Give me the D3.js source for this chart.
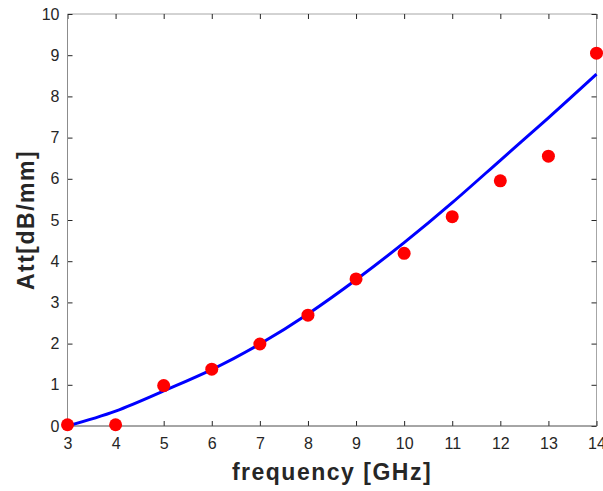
<!DOCTYPE html>
<html><head><meta charset="utf-8">
<script src="https://cdn.jsdelivr.net/npm/d3@7"></script>
<style>body{margin:0;background:#fff;}svg{display:block;font-family:"Liberation Sans",Arial,sans-serif;}</style>
</head><body>
<script>
const freqs = [3,4,5,6,7,8,9,10,11,12,13,14];
const measured = [0.03,0.03,0.98,1.38,1.99,2.69,3.57,4.19,5.08,5.95,6.55,9.05];
const fitFreqs = [3,4,5,6,7,8,9,10,11,12,13,14];
const fitValues = [0.0,0.36,0.85,1.37,1.99,2.72,3.55,4.45,5.42,6.45,7.48,8.54];
const xTicks = [3,4,5,6,7,8,9,10,11,12,13,14];
const yTicks = [0,1,2,3,4,5,6,7,8,9,10];

const W=603,H=491;
const m={left:67.5,right:6.5,top:14,bottom:65};
const svg=d3.select("body").append("svg").attr("width",W).attr("height",H);
const x=d3.scaleLinear().domain([3,14]).range([m.left,W-m.right]);
const y=d3.scaleLinear().domain([0,10]).range([H-m.bottom,m.top]);

const g=svg.append("g");
// box
g.append("line").attr("x1",x(3)).attr("x2",x(14)).attr("y1",y(10)).attr("y2",y(10)).attr("stroke","#a6a6a6");
g.append("line").attr("x1",x(14)).attr("x2",x(14)).attr("y1",y(0)).attr("y2",y(10)).attr("stroke","#a6a6a6");

const tc="#262626";
function styleAxis(sel){sel.selectAll(".domain").remove();sel.selectAll("line").attr("stroke",tc);sel.selectAll("text").attr("fill",tc).style("font-size","16px");}
g.append("g").attr("transform",`translate(0,${y(0)})`).call(d3.axisBottom(x).tickValues(xTicks).tickSize(-5).tickPadding(12).tickFormat(d3.format("d"))).call(styleAxis);
g.append("g").attr("transform",`translate(0,${y(10)})`).call(d3.axisTop(x).tickValues(xTicks).tickSize(-5).tickFormat("")).call(styleAxis);
g.append("g").attr("transform",`translate(${x(3)},0)`).call(d3.axisLeft(y).tickValues(yTicks).tickSize(-5).tickPadding(8).tickFormat(d3.format("d"))).call(styleAxis);
g.append("g").attr("transform",`translate(${x(14)},0)`).call(d3.axisRight(y).tickValues(yTicks).tickSize(-5).tickFormat("")).call(styleAxis);
g.append("line").attr("x1",x(3)).attr("x2",x(3)).attr("y1",y(0)).attr("y2",y(10)).attr("stroke","#8c8c8c");
g.append("line").attr("x1",x(3)).attr("x2",x(14)).attr("y1",y(0)).attr("y2",y(0)).attr("stroke","#4d4d4d");

// fit line
const fit=fitFreqs.map((f,i)=>[f,fitValues[i]]);
g.append("path").datum(fit).attr("fill","none").attr("stroke","#0000ff").attr("stroke-width",3)
 .attr("d",d3.line().x(d=>x(d[0])).y(d=>y(d[1])).curve(d3.curveNatural));

// points
g.selectAll("circle.pt").data(freqs.map((f,i)=>[f,measured[i]])).enter().append("circle")
 .attr("cx",d=>x(d[0])).attr("cy",d=>y(d[1])).attr("r",6.5).attr("fill","#ff0000");

// labels
svg.append("text").attr("x",(x(3)+x(14))/2).attr("y",479.5).attr("text-anchor","middle")
 .attr("fill",tc).style("font-size","23px").style("font-weight","bold").style("letter-spacing","1.5px").text("frequency [GHz]");
svg.append("text").attr("transform",`translate(34,${(y(0)+y(10))/2}) rotate(-90)`).attr("text-anchor","middle")
 .attr("fill",tc).style("font-size","23px").style("font-weight","bold").style("letter-spacing","1.5px").text("Att[dB/mm]");
</script>
</body></html>
